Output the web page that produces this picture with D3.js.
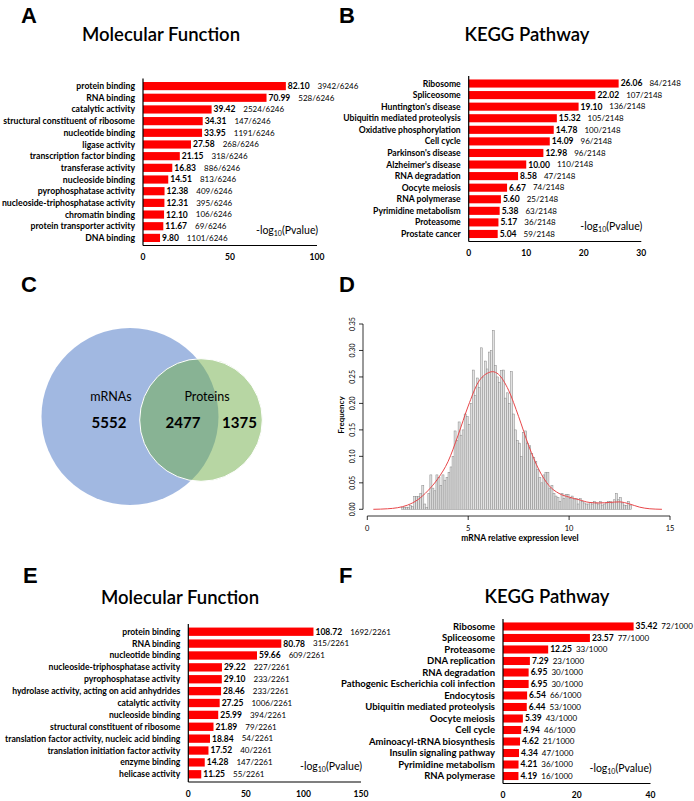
<!DOCTYPE html>
<html><head><meta charset="utf-8">
<script src="https://cdn.jsdelivr.net/npm/d3@7"></script>
<style>body{margin:0;background:#fff}svg{display:block}</style>
</head><body>
<script>
// ---------- DATA ----------
const aCats = ["protein binding","RNA binding","catalytic activity","structural constituent of ribosome","nucleotide binding","ligase activity","transcription factor binding","transferase activity","nucleoside binding","pyrophosphatase activity","nucleoside-triphosphatase activity","chromatin binding","protein transporter activity","DNA binding"];
const aVals = [82.10,70.99,39.42,34.31,33.95,27.58,21.15,16.83,14.51,12.38,12.31,12.10,11.67,9.80];
const aCounts = ["3942/6246","528/6246","2524/6246","147/6246","1191/6246","268/6246","318/6246","886/6246","813/6246","409/6246","395/6246","106/6246","69/6246","1101/6246"];
const aTicks = [0,50,100];

const bCats = ["Ribosome","Spliceosome","Huntington's disease","Ubiquitin mediated proteolysis","Oxidative phosphorylation","Cell cycle","Parkinson's disease","Alzheimer's disease","RNA degradation","Oocyte meiosis","RNA polymerase","Pyrimidine metabolism","Proteasome","Prostate cancer"];
const bVals = [26.06,22.02,19.10,15.32,14.78,14.09,12.98,10.00,8.58,6.67,5.60,5.38,5.17,5.04];
const bCounts = ["84/2148","107/2148","136/2148","105/2148","100/2148","96/2148","96/2148","110/2148","47/2148","74/2148","25/2148","63/2148","36/2148","59/2148"];
const bTicks = [0,10,20,30];

const eCats = ["protein binding","RNA binding","nucleotide binding","nucleoside-triphosphatase activity","pyrophosphatase activity","hydrolase activity, acting on acid anhydrides","catalytic activity","nucleoside binding","structural constituent of ribosome","translation factor activity, nucleic acid binding","translation initiation factor activity","enzyme binding","helicase activity"];
const eVals = [108.72,80.78,59.66,29.22,29.10,28.46,27.25,25.99,21.89,18.84,17.52,14.28,11.25];
const eCounts = ["1692/2261","315/2261","609/2261","227/2261","233/2261","233/2261","1006/2261","394/2261","79/2261","54/2261","40/2261","147/2261","55/2261"];
const eTicks = [0,50,100,150];

const fCats = ["Ribosome","Spliceosome","Proteasome","DNA replication","RNA degradation","Pathogenic Escherichia coli infection","Endocytosis","Ubiquitin mediated proteolysis","Oocyte meiosis","Cell cycle","Aminoacyl-tRNA biosynthesis","Insulin signaling pathway","Pyrimidine metabolism","RNA polymerase"];
const fVals = [35.42,23.57,12.25,7.29,6.95,6.95,6.54,6.44,5.39,4.94,4.62,4.34,4.21,4.19];
const fCounts = ["72/1000","77/1000","33/1000","23/1000","30/1000","30/1000","66/1000","53/1000","43/1000","46/1000","21/1000","47/1000","36/1000","16/1000"];
const fTicks = [0,20,40];

const vennSets = ["mRNAs","Proteins"];
const vennOnly = [5552,1375];
const vennShared = 2477;

const histX = [1.7,1.8,1.9,2.0,2.1,2.2,2.3,2.4,2.5,2.6,2.7,2.8,2.9,3.0,3.1,3.2,3.3,3.4,3.5,3.6,3.7,3.8,3.9,4.0,4.1,4.2,4.3,4.4,4.5,4.6,4.7,4.8,4.9,5.0,5.1,5.2,5.3,5.4,5.5,5.6,5.7,5.8,5.9,6.0,6.1,6.2,6.3,6.4,6.5,6.6,6.7,6.8,6.9,7.0,7.1,7.2,7.3,7.4,7.5,7.6,7.7,7.8,7.9,8.0,8.1,8.2,8.3,8.4,8.5,8.6,8.7,8.8,8.9,9.0,9.1,9.2,9.3,9.4,9.5,9.6,9.7,9.8,9.9,10.0,10.1,10.2,10.3,10.4,10.5,10.6,10.7,10.8,10.9,11.0,11.1,11.2,11.3,11.4,11.5,11.6,11.7,11.8,11.9,12.0,12.1,12.2,12.3,12.4,12.5,12.6,12.7,12.8,12.9,13.0];
const histFreq = [.004,.004,.004,.004,.007,.005,.024,.024,.024,.03,.045,.01,.003,.03,.065,.04,.035,.065,.06,.045,.065,.055,.06,.07,.08,.1,.148,.13,.165,.14,.15,.18,.175,.16,.2,.263,.215,.248,.23,.305,.25,.28,.265,.297,.3,.338,.272,.25,.24,.262,.263,.21,.22,.2,.26,.18,.15,.13,.125,.1,.145,.148,.125,.12,.105,.098,.09,.075,.06,.05,.065,.07,.07,.04,.045,.03,.025,.022,.015,.03,.02,.028,.028,.02,.025,.018,.02,.01,.02,.015,.012,.01,.01,.013,.01,.015,.012,.01,.015,.008,.01,.012,.015,.015,.012,.018,.03,.018,.022,.012,.008,.007,.015,.008];
const histBinWidth = 0.1;
const densX = [0.3,1.0,1.5,2.0,2.5,3.0,3.5,4.0,4.5,5.0,5.5,6.0,6.2,6.5,7.0,7.5,8.0,8.5,9.0,9.5,10.0,10.5,11.0,11.5,12.0,12.5,13.0,13.5,14.0,14.6];
const densY = [0,0.001,0.003,0.008,0.018,0.035,0.058,0.09,0.14,0.195,0.24,0.258,0.26,0.255,0.225,0.175,0.12,0.075,0.045,0.03,0.023,0.018,0.013,0.012,0.013,0.014,0.01,0.004,0.001,0];
const dXTicks = [0,5,10,15];
const dYTicks = [0,0.05,0.10,0.15,0.20,0.25,0.30,0.35];

// ---------- DRAW ----------
const FONT = "Lato, 'Open Sans', 'DejaVu Sans', sans-serif";
const svg = d3.select("body").append("svg").attr("width",694).attr("height",801)
  .style("font-family",FONT);

function panelLetter(t,x,y){
  svg.append("text").attr("x",x).attr("y",y).text(t)
    .style("font-family","'Liberation Sans', Arial, sans-serif")
    .style("font-weight","bold").style("font-size","22px");
}
function title(t,cx,y){
  svg.append("text").attr("x",cx).attr("y",y).attr("text-anchor","middle").text(t)
    .style("font-size","18.5px").style("font-weight","600");
}
function logTitle(g,x,y){
  const t = g.append("text").attr("x",x).attr("y",y).attr("text-anchor","end")
    .attr("dominant-baseline","middle").style("font-size","10.5px");
  t.append("tspan").text("-log");
  t.append("tspan").text("10").style("font-size","7px").attr("dy",3);
  t.append("tspan").text("(Pvalue)").attr("dy",-3);
}

function barPanel(cats, vals, counts, ticks, o){
  const g = svg.append("g");
  const x = d3.scaleLinear().domain([0, ticks[ticks.length-1]]).range([o.x0, o.x1]);
  const y = d3.scaleBand().domain(cats).range([o.top, o.bottom]).paddingInner(0.3).paddingOuter(0.3);
  const rows = cats.map((c,i)=>({c, v:vals[i], n:counts[i]}));
  g.selectAll("rect.bar").data(rows).enter().append("rect")
    .attr("x", x(0)).attr("y", d=>y(d.c)).attr("width", d=>x(d.v)-x(0))
    .attr("height", y.bandwidth()).attr("fill","#ff0000");
  g.selectAll("text.lab").data(rows).enter().append("text")
    .attr("x", x(0)-8).attr("y", d=>y(d.c)+y.bandwidth()/2).attr("dy","0.35em")
    .attr("text-anchor","end").text(d=>d.c)
    .style("font-size",o.lf+"px").style("font-weight","bold");
  const vt = g.selectAll("text.val").data(rows).enter().append("text")
    .attr("x", d=>x(d.v)+2).attr("y", d=>y(d.c)+y.bandwidth()/2).attr("dy","0.35em")
    .text(d=>d.v.toFixed(2)).style("font-size","8.5px").style("font-weight","bold");
  vt.each(function(d){ d.w = this.getComputedTextLength(); });
  g.selectAll("text.cnt").data(rows).enter().append("text")
    .attr("x", d=>x(d.v)+2+d.w+o.gap).attr("y", d=>y(d.c)+y.bandwidth()/2).attr("dy","0.35em")
    .text(d=>d.n).style("font-size","8px");
  g.append("line").attr("x1",x(0)).attr("x2",x(0)).attr("y1",o.top).attr("y2",o.bottom)
    .attr("stroke","#000").attr("stroke-width",1.2);
  g.append("line").attr("x1",x(0)).attr("x2",o.x1).attr("y1",o.bottom).attr("y2",o.bottom)
    .attr("stroke","#000").attr("stroke-width",1.2);
  g.selectAll("text.tick").data(ticks).enter().append("text")
    .attr("x", d=>x(d)).attr("y", o.bottom+12).attr("dy","0.35em").attr("text-anchor","middle")
    .text(d=>d).style("font-size","8.5px").style("font-weight","bold");
  logTitle(g, o.x1+1, o.bottom-15);
}

// Panel A
panelLetter("A",21,23);
title("Molecular Function",161,41);
barPanel(aCats,aVals,aCounts,aTicks,{x0:143,x1:317,top:78.5,bottom:245.5,gap:8,lf:8.7});
// Panel B
panelLetter("B",339,23);
title("KEGG Pathway",527,41);
barPanel(bCats,bVals,bCounts,bTicks,{x0:468.7,x1:641.3,top:76,bottom:241.5,gap:7,lf:8.6});
// Panel E
panelLetter("E",23,583);
title("Molecular Function",180,604);
barPanel(eCats,eVals,eCounts,eTicks,{x0:188.3,x1:361,top:624,bottom:782,gap:8,lf:8.6});
// Panel F
panelLetter("F",339,583);
title("KEGG Pathway",547,603);
barPanel(fCats,fVals,fCounts,fTicks,{x0:503,x1:650.5,top:619,bottom:783.5,gap:4,lf:9.5});

// Panel C: Venn
panelLetter("C",21,292);
(function(){
  const totals = [vennOnly[0]+vennShared, vennOnly[1]+vennShared];
  const r = d3.scaleSqrt().domain([0, totals[0]]).range([0, 88.5]);
  const g = svg.append("g");
  g.append("circle").attr("cx",130).attr("cy",416.5).attr("r",r(totals[0]))
    .attr("fill","#4472c4").attr("fill-opacity",0.5);
  g.append("circle").attr("cx",201).attr("cy",420).attr("r",r(totals[1]))
    .attr("fill","#70ad47").attr("fill-opacity",0.5).attr("stroke","#fff").attr("stroke-width",1);
  g.append("text").attr("x",111).attr("y",397).attr("dy","0.35em").attr("text-anchor","middle")
    .text(vennSets[0]).style("font-size","12.5px");
  g.append("text").attr("x",207).attr("y",397).attr("dy","0.35em").attr("text-anchor","middle")
    .text(vennSets[1]).style("font-size","12.5px");
  const nums = [[vennOnly[0],109],[vennShared,183],[vennOnly[1],239.5]];
  g.selectAll("text.num").data(nums).enter().append("text")
    .attr("x",d=>d[1]).attr("y",423).attr("dy","0.35em").attr("text-anchor","middle")
    .text(d=>d[0]).style("font-size","15px").style("font-weight","bold");
})();

// Panel D: histogram
panelLetter("D",339,292);
(function(){
  const g = svg.append("g");
  const x = d3.scaleLinear().domain([0,15]).range([367.3,670]);
  const y = d3.scaleLinear().domain([0,0.35]).range([509.3,324]);
  const bins = histX.map((v,i)=>({x0:v, f:histFreq[i]}));
  g.selectAll("rect").data(bins).enter().append("rect")
    .attr("x",d=>x(d.x0)).attr("width",d=>x(d.x0+histBinWidth)-x(d.x0))
    .attr("y",d=>y(d.f)).attr("height",d=>y(0)-y(d.f))
    .attr("fill","#e2e2e2").attr("stroke","#888").attr("stroke-width",0.5);
  const pts = densX.map((v,i)=>[v,densY[i]]);
  g.append("path").attr("d", d3.line().x(d=>x(d[0])).y(d=>y(d[1])).curve(d3.curveMonotoneX)(pts))
    .attr("fill","none").attr("stroke","#e8474a").attr("stroke-width",1);
  const ax = 516;
  g.append("line").attr("x1",x(0)).attr("x2",x(15)).attr("y1",ax).attr("y2",ax).attr("stroke","#000").attr("stroke-width",0.8);
  g.selectAll("line.xt").data(dXTicks).enter().append("line")
    .attr("x1",d=>x(d)).attr("x2",d=>x(d)).attr("y1",ax).attr("y2",ax+4).attr("stroke","#000").attr("stroke-width",0.8);
  g.selectAll("text.xt").data(dXTicks).enter().append("text")
    .attr("x",d=>x(d)).attr("y",ax+12).attr("dy","0.35em").attr("text-anchor","middle")
    .text(d=>d).style("font-size","7.5px");
  const ay = 363;
  g.append("line").attr("x1",ay).attr("x2",ay).attr("y1",y(0)).attr("y2",y(0.35)).attr("stroke","#000").attr("stroke-width",0.8);
  g.selectAll("line.yt").data(dYTicks).enter().append("line")
    .attr("x1",ay-4).attr("x2",ay).attr("y1",d=>y(d)).attr("y2",d=>y(d)).attr("stroke","#000").attr("stroke-width",0.8);
  g.selectAll("text.yt").data(dYTicks).enter().append("text")
    .attr("transform",d=>`translate(${ay-8},${y(d)}) rotate(-90)`).attr("text-anchor","middle")
    .text(d=>d.toFixed(2)).style("font-size","7px");
  g.append("text").attr("transform","translate(341,415) rotate(-90)").attr("text-anchor","middle")
    .attr("dy","0.35em").text("Frequency").style("font-size","8px").style("font-weight","bold");
  g.append("text").attr("x",520).attr("y",538).attr("dy","0.35em").attr("text-anchor","middle")
    .text("mRNA relative expression level").style("font-size","8.5px").style("font-weight","bold");
})();
</script>
</body></html>
